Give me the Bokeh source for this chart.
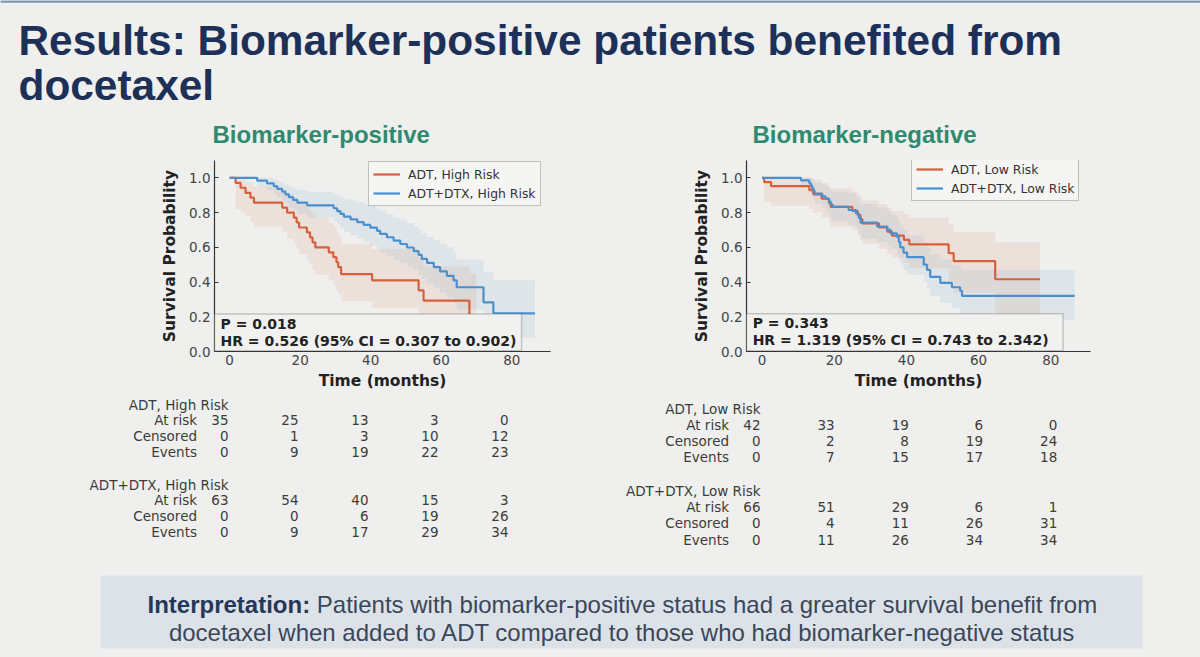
from bokeh.plotting import figure
from bokeh.layouts import column, row
from bokeh.models import (Range1d, Legend, LegendItem, BoxAnnotation, Label,
                          FixedTicker, PrintfTickFormatter, Span)
from bokeh.embed import file_html
from bokeh.resources import INLINE
from bokeh.core.properties import value

# ---------------- data ----------------
title_lines = ["Results: Biomarker-positive patients benefited from", "docetaxel"]
panel_titles = ["Biomarker-positive", "Biomarker-negative"]
x_ticks = [0, 20, 40, 60, 80]
y_ticks = [0.0, 0.2, 0.4, 0.6, 0.8, 1.0]

# Biomarker-positive: ADT, High Risk
pos_adt_t = [0, 1.7, 3.1, 4.5, 5.9, 6.9, 14.9, 16.3, 18.2, 19.0, 19.7, 21.9, 22.8, 23.5, 24.3, 28.1, 29.4,
             30.3, 30.8, 31.6, 40.4, 53.6, 55.0, 68.0]
pos_adt_s = [1.0, 0.971, 0.943, 0.914, 0.886, 0.857, 0.829, 0.800, 0.771, 0.743, 0.714, 0.686, 0.657, 0.629,
             0.600, 0.571, 0.543, 0.514, 0.486, 0.446, 0.410, 0.352, 0.293, 0.195]
pos_adt_lo = [1.0, 0.82, 0.80, 0.78, 0.75, 0.72, 0.69, 0.65, 0.62, 0.59, 0.56, 0.53, 0.50, 0.47, 0.44, 0.41,
              0.38, 0.35, 0.33, 0.29, 0.25, 0.19, 0.13, 0.05]
pos_adt_hi = [1.0, 1.0, 0.99, 0.98, 0.97, 0.95, 0.93, 0.91, 0.89, 0.87, 0.85, 0.83, 0.81, 0.79, 0.77, 0.74,
              0.72, 0.69, 0.67, 0.62, 0.59, 0.54, 0.49, 0.45]
pos_adt_end = 70.0

# Biomarker-positive: ADT+DTX, High Risk
pos_dtx_t = [0, 7.8, 10.6, 12.5, 13.5, 14.9, 15.8, 16.8, 18.0, 19.2, 22.0, 29.5, 30.5, 31.4, 32.4, 34.3, 36.2,
             38.0, 39.9, 41.8, 42.7, 44.6, 46.5, 48.4, 50.3, 52.2, 53.6, 54.5, 56.0, 57.9, 59.7, 61.6, 63.5,
             64.4, 72.0, 74.8]
pos_dtx_s = [1.0, 0.984, 0.968, 0.952, 0.937, 0.921, 0.905, 0.889, 0.873, 0.857, 0.841, 0.825, 0.809, 0.793,
             0.777, 0.761, 0.745, 0.729, 0.713, 0.695, 0.677, 0.658, 0.639, 0.619, 0.599, 0.578, 0.556, 0.533,
             0.510, 0.486, 0.462, 0.436, 0.410, 0.370, 0.283, 0.220]
pos_dtx_lo = [1.0, 0.95, 0.93, 0.91, 0.89, 0.87, 0.85, 0.83, 0.81, 0.79, 0.77, 0.75, 0.73, 0.71, 0.69, 0.67,
              0.65, 0.63, 0.61, 0.59, 0.57, 0.55, 0.53, 0.51, 0.49, 0.47, 0.44, 0.42, 0.39, 0.37, 0.34, 0.31,
              0.28, 0.24, 0.15, 0.08]
pos_dtx_hi = [1.0, 1.0, 1.0, 0.99, 0.98, 0.97, 0.96, 0.95, 0.94, 0.93, 0.92, 0.91, 0.90, 0.89, 0.88, 0.87,
              0.86, 0.85, 0.84, 0.82, 0.81, 0.79, 0.77, 0.76, 0.74, 0.72, 0.70, 0.68, 0.66, 0.64, 0.62, 0.60,
              0.57, 0.53, 0.46, 0.41]
pos_dtx_end = 86.6

# Biomarker-negative: ADT, Low Risk
neg_adt_t = [0, 0.6, 2.5, 13.1, 14.2, 16.5, 18.5, 19.0, 25.0, 26.5, 27.3, 27.8, 32.4, 34.7, 36.0, 39.3, 40.8,
             51.7, 53.1, 64.6]
neg_adt_s = [1.0, 0.976, 0.952, 0.929, 0.905, 0.881, 0.857, 0.833, 0.810, 0.786, 0.762, 0.738, 0.714, 0.690,
             0.667, 0.643, 0.617, 0.566, 0.520, 0.416]
neg_adt_lo = [1.0, 0.86, 0.84, 0.82, 0.80, 0.77, 0.75, 0.72, 0.70, 0.67, 0.64, 0.62, 0.59, 0.56, 0.54, 0.51,
              0.48, 0.40, 0.34, 0.21]
neg_adt_hi = [1.0, 1.0, 1.0, 1.0, 0.99, 0.97, 0.95, 0.94, 0.92, 0.90, 0.89, 0.87, 0.85, 0.83, 0.81, 0.79,
              0.77, 0.73, 0.69, 0.63]
neg_adt_end = 77.0

# Biomarker-negative: ADT+DTX, Low Risk
neg_dtx_t = [0, 10.8, 13.1, 13.5, 13.9, 14.3, 14.6, 16.7, 17.6, 18.6, 19.0, 19.5, 24.0, 26.0, 26.8, 27.3, 31.9,
             34.7, 35.6, 37.4, 37.9, 38.3, 39.2, 40.2, 44.8, 45.7, 46.6, 49.4, 52.6, 54.9, 55.4]
neg_dtx_s = [1.0, 0.985, 0.970, 0.955, 0.939, 0.924, 0.909, 0.894, 0.879, 0.864, 0.848, 0.833, 0.815, 0.795,
             0.770, 0.742, 0.720, 0.700, 0.680, 0.660, 0.630, 0.600, 0.570, 0.543, 0.500, 0.470, 0.430, 0.395,
             0.370, 0.350, 0.320]
neg_dtx_lo = [1.0, 0.96, 0.93, 0.91, 0.89, 0.87, 0.85, 0.83, 0.81, 0.79, 0.77, 0.75, 0.73, 0.71, 0.68, 0.65,
              0.63, 0.61, 0.59, 0.56, 0.53, 0.50, 0.47, 0.44, 0.40, 0.36, 0.32, 0.28, 0.25, 0.22, 0.18]
neg_dtx_hi = [1.0, 1.0, 1.0, 1.0, 0.99, 0.98, 0.97, 0.96, 0.95, 0.94, 0.93, 0.92, 0.91, 0.89, 0.87, 0.85,
              0.83, 0.81, 0.79, 0.77, 0.75, 0.72, 0.70, 0.67, 0.63, 0.60, 0.56, 0.53, 0.50, 0.48, 0.47]
neg_dtx_end = 86.6

legend_pos = ["ADT, High Risk", "ADT+DTX, High Risk"]
legend_neg = ["ADT, Low Risk", "ADT+DTX, Low Risk"]
stats_pos = ["P = 0.018", "HR = 0.526 (95% CI = 0.307 to 0.902)"]
stats_neg = ["P = 0.343", "HR = 1.319 (95% CI = 0.743 to 2.342)"]

table_times = [0, 20, 40, 60, 80]
row_labels = ["At risk", "Censored", "Events"]
pos_adt_table = [[35, 25, 13, 3, 0], [0, 1, 3, 10, 12], [0, 9, 19, 22, 23]]
pos_dtx_table = [[63, 54, 40, 15, 3], [0, 0, 6, 19, 26], [0, 9, 17, 29, 34]]
neg_adt_table = [[42, 33, 19, 6, 0], [0, 2, 8, 19, 24], [0, 7, 15, 17, 18]]
neg_dtx_table = [[66, 51, 29, 6, 1], [0, 4, 11, 26, 31], [0, 11, 26, 34, 34]]

interp_bold = "Interpretation:"
interp_rest = "Patients with biomarker-positive status had a greater survival benefit from"
interp_line2 = "docetaxel when added to ADT compared to those who had biomarker-negative status"

# ---------------- style ----------------
BG = "#efefed"
RED = "#d4603d"
BLUE = "#4a8fd0"
NAVY = "#1d3158"
TEAL = "#2f8a6e"
DV = "DejaVu Sans"
BGSTYLE = {"background-color": BG}


def step_xy(t, v, end):
    xs, ys = [], []
    for i in range(len(t)):
        x1 = t[i + 1] if i + 1 < len(t) else end
        xs += [t[i], x1]
        ys += [v[i], v[i]]
    return xs, ys


def plain(p):
    p.background_fill_color = BG
    p.border_fill_color = BG
    p.outline_line_color = None
    p.xgrid.visible = False
    p.ygrid.visible = False
    p.styles = BGSTYLE


KM_H = 245


def km_panel(bl, br, bt, fh, fw, curves, labels, leg_loc, box_right, box_top, stats, stat_ys):
    p = figure(width=bl + fw + br, height=KM_H, x_range=Range1d(-4.3, 91.0), y_range=Range1d(0, 1.1),
               output_backend="svg", toolbar_location=None,
               min_border_left=bl, min_border_right=br, min_border_top=bt,
               min_border_bottom=KM_H - bt - fh)
    plain(p)
    rends = []
    for (t, s, lo, hi, end, col) in curves:
        xs, ylo = step_xy(t, lo, end)
        _, yhi = step_xy(t, hi, end)
        p.varea(x=xs, y1=ylo, y2=yhi, fill_color=col, fill_alpha=0.10)
    for (t, s, lo, hi, end, col) in curves:
        xs, ys = step_xy(t, s, end)
        rends.append(p.line(xs, ys, line_color=col, line_width=2.2))
    p.xaxis.ticker = FixedTicker(ticks=x_ticks)
    p.yaxis.ticker = FixedTicker(ticks=y_ticks)
    p.yaxis.formatter = PrintfTickFormatter(format="%.1f")
    p.xaxis.axis_label = "Time (months)"
    p.yaxis.axis_label = "Survival Probability"
    for ax in (p.xaxis, p.yaxis):
        ax.axis_line_color = "#333333"
        ax.axis_line_width = 1.2
        ax.major_tick_in = 4
        ax.major_tick_out = 0
        ax.major_tick_line_color = "#333333"
        ax.minor_tick_line_color = None
        ax.major_label_text_font = DV
        ax.major_label_text_font_size = "13.5px"
        ax.major_label_text_color = "#444444"
        ax.axis_label_text_font = DV
        ax.axis_label_text_font_style = "bold"
        ax.axis_label_text_font_size = "15.5px"
        ax.axis_label_text_color = "#222222"
    p.xaxis.major_label_standoff = 3
    p.xaxis.axis_label_standoff = 4
    p.yaxis.major_label_standoff = 4
    p.yaxis.axis_label_standoff = 7
    leg = Legend(items=[LegendItem(label=l, renderers=[r]) for l, r in zip(labels, rends)],
                 location=leg_loc, label_text_font=DV, label_text_font_size="12.4px",
                 label_text_color="#333333", border_line_color="#8a8a8a", border_line_width=1,
                 background_fill_color="#f5f5f3", background_fill_alpha=0.9,
                 glyph_width=27, glyph_height=16, label_height=16, spacing=3, padding=4,
                 margin=0, label_standoff=8)
    p.add_layout(leg)
    p.add_layout(BoxAnnotation(left=-4.3, right=box_right, bottom=0.004, top=box_top,
                               fill_color="#f1f1ef", fill_alpha=1.0, line_color="#5a5a5a",
                               line_width=1.5))
    for txt, yy in zip(stats, stat_ys):
        p.add_layout(Label(x=-2.6, y=yy, text=txt, text_font=DV, text_font_style="bold",
                           text_font_size="14px", text_color="#222222", text_baseline="middle"))
    return p


left = km_panel(214, 50, 10, 191, 336,
                [(pos_adt_t, pos_adt_s, pos_adt_lo, pos_adt_hi, pos_adt_end, RED),
                 (pos_dtx_t, pos_dtx_s, pos_dtx_lo, pos_dtx_hi, pos_dtx_end, BLUE)],
                legend_pos, (154, 145), 82.8, 0.216, stats_pos, [0.16, 0.063])
right = km_panel(146, 110, 7, 196, 344,
                 [(neg_adt_t, neg_adt_s, neg_adt_lo, neg_adt_hi, neg_adt_end, RED),
                  (neg_dtx_t, neg_dtx_s, neg_dtx_lo, neg_dtx_hi, neg_dtx_end, BLUE)],
                 legend_neg, (165, 150), 83.4, 0.218, stats_neg, [0.165, 0.069])

# ---------------- tables ----------------
TAB_H = 170


def table_panel(t0_px, px_per_month, groups, names, row_ys):
    p = figure(width=600, height=TAB_H,
               x_range=Range1d(-t0_px / px_per_month, (600 - t0_px) / px_per_month),
               y_range=Range1d(TAB_H, 0), output_backend="svg", toolbar_location=None,
               x_axis_location=None, y_axis_location=None, min_border=0)
    plain(p)
    common = dict(text_font=value(DV), text_font_size="13.5px", text_color="#3c3c3c",
                  text_baseline="middle")
    k = 0
    for name, tab in zip(names, groups):
        p.text(x=[table_times[0]], y=[row_ys[k]], text=[name], text_align="right", **common)
        k += 1
        for lab, vals in zip(row_labels, tab):
            p.text(x=[table_times[0]], y=[row_ys[k]], text=[lab], text_align="right",
                   x_offset=-31.5, **common)
            p.text(x=table_times, y=[row_ys[k]] * len(table_times), text=[str(v) for v in vals],
                   text_align="right", **common)
            k += 1
    return p


tab_left = table_panel(228, 3.5, [pos_adt_table, pos_dtx_table], legend_pos,
                       [9, 24.3, 40.7, 56.7, 89, 104.3, 120.7, 136.7])
tab_right = table_panel(160, 3.709, [neg_adt_table, neg_dtx_table], legend_neg,
                        [13.3, 29.3, 45.7, 61.7, 95, 111, 127.7, 144])

# ---------------- header ----------------
HEAD_H = 150
head = figure(width=1200, height=HEAD_H, x_range=Range1d(0, 1200), y_range=Range1d(HEAD_H, 0),
              output_backend="svg", toolbar_location=None, x_axis_location=None,
              y_axis_location=None, min_border=0)
plain(head)
head.add_layout(Span(location=1, dimension="width", line_color="#7d95b0", line_width=2.5))
head.text(x=[18, 18], y=[40, 85], text=title_lines, text_font=value("Liberation Sans"),
          text_font_style="bold", text_font_size="42.4px", text_color=NAVY, text_baseline="alphabetic")
head.text(x=[212, 752], y=[134, 134], text=panel_titles, text_font=value("Liberation Sans"),
          text_font_style="bold", text_font_size="24px", text_color=TEAL, text_baseline="alphabetic")

# ---------------- footer ----------------
FOOT_H = 657 - HEAD_H - KM_H - TAB_H
FS = 24.0
foot = figure(width=1200, height=FOOT_H, x_range=Range1d(0, 1200), y_range=Range1d(FOOT_H, 0),
              output_backend="svg", toolbar_location=None, x_axis_location=None,
              y_axis_location=None, min_border=0)
plain(foot)
foot.quad(left=[100], right=[1142], top=[10], bottom=[83], fill_color="#dce2e8", line_color=None)
foot.text(x=[147], y=[39], text=[interp_bold], text_font=value("Liberation Sans"), text_font_style="bold",
          text_font_size=f"{FS}px", text_color="#24385a", text_baseline="alphabetic")
foot.text(x=[147 + (6.778 + 0.278) * FS], y=[39], text=[interp_rest], text_font=value("Liberation Sans"),
          text_font_size=f"{FS}px", text_color="#3a475a", text_baseline="alphabetic")
foot.text(x=[622], y=[67], text=[interp_line2], text_font=value("Liberation Sans"), text_align="center",
          text_font_size=f"{FS}px", text_color="#3a475a", text_baseline="alphabetic")

layout = column(head, row(left, right, styles=BGSTYLE), row(tab_left, tab_right, styles=BGSTYLE),
                foot, styles=BGSTYLE)
open("out.html", "w").write(file_html(layout, INLINE))
